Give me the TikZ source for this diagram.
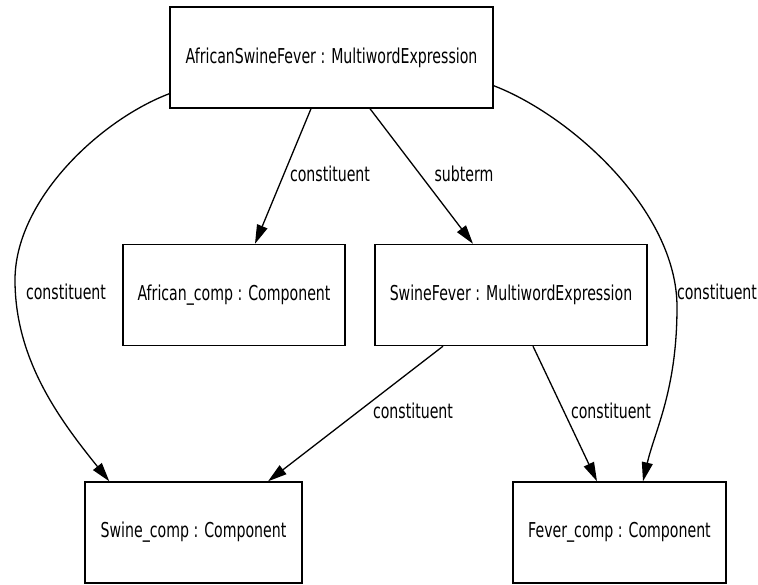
\documentclass[tikz,border=0pt]{standalone}
\usepackage{fontspec}
\setmainfont{DejaVu Sans}[FakeStretch=0.69]
\usetikzlibrary{arrows.meta}
\begin{document}
\begin{tikzpicture}[x=1pt,y=-1pt,
  font=\fontsize{20.5}{24}\selectfont,
  box/.style={draw, line width=1.4pt, inner sep=0pt, minimum height=101pt},
  lbl/.style={inner sep=0pt},
  edge/.style={line width=1.3pt, -{Triangle[length=19pt,width=11pt]}}]
\useasboundingbox (0,0) rectangle (758,584);
\node[box, minimum width=323pt] (top) at (331.5,57.5) {AfricanSwineFever : MultiwordExpression};
\node[box, minimum width=222pt] (african) at (234,295) {African\_comp : Component};
\node[box, minimum width=272pt] (swinefever) at (511,295) {SwineFever : MultiwordExpression};
\node[box, minimum width=217pt] (swinecomp) at (193.5,532.5) {Swine\_comp : Component};
\node[box, minimum width=213pt] (fevercomp) at (619.5,532.5) {Fever\_comp : Component};

\draw[edge] ([xshift=-20.5pt]top.south) -- ([xshift=21pt]african.north);
\draw[edge] ([xshift=38.5pt]top.south) -- ([xshift=-38pt]swinefever.north);
\draw[edge] ([yshift=15pt]top.south west) .. controls (100,120) and (15,200) .. (15,280)
  .. controls (15,360) and (60,420) .. ([xshift=25pt]swinecomp.north west);
\draw[edge] ([yshift=23pt]top.south east) .. controls (570,115) and (677,210) .. (677,307)
  .. controls (677,390) and (655,430) .. ([xshift=23.5pt]fevercomp.north);
\draw[edge] ([xshift=-68pt]swinefever.south) -- ([xshift=74.5pt]swinecomp.north);
\draw[edge] ([xshift=22pt]swinefever.south) -- ([xshift=-22.5pt]fevercomp.north);

\node[lbl] (l1) at (330,174) {constituent};
\node[lbl] (l2) at (464,174) {subterm};
\node[lbl] (l3) at (66,292) {constituent};
\node[lbl] (l4) at (717,292) {constituent};
\node[lbl] (l5) at (413,411) {constituent};
\node[lbl] (l6) at (611,411) {constituent};
\end{tikzpicture}
\end{document}
